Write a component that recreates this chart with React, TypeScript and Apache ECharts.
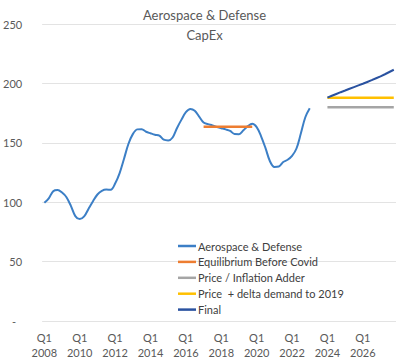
import React, { useEffect, useRef } from "react";
import * as echarts from "echarts";

const years = [2008, 2009, 2010, 2011, 2012, 2013, 2014, 2015, 2016, 2017, 2018, 2019, 2020, 2021, 2022, 2023, 2024, 2025, 2026, 2027];
const quarters = ["Q1", "Q2", "Q3", "Q4"];

const aerospaceDefense = [
  99.5, 103.3, 109.3, 110.3, 108.1, 104.2, 96.9, 88.3,
  85.8, 88, 94.5, 100.8, 106.5, 109.5, 110.6, 110.5,
  115.7, 124.3, 136.4, 149, 157.3, 161.3, 161.5, 159.3,
  158, 156.8, 156, 152.6, 152, 154.5, 162.5, 169.5,
  175.8, 178.5, 177, 172, 167, 165.7, 164.6, 163.3,
  162.3, 161.3, 160, 157.4, 157.3, 160.5, 164, 166,
  163.2, 155.5, 145.5, 134.5, 129.7, 130, 133.8, 135.7,
  139, 145.2, 158, 171.5, 179,
];
const equilibriumStart = 36;
const equilibriumBeforeCovid = [163.5, 163.5, 163.5, 163.5, 163.5, 163.5, 163.5, 163.5, 163.5, 163.5, 163.5, 163.5];
const forecastStart = 64;
const priceInflationAdder = [180, 180, 180, 180, 180, 180, 180, 180, 180, 180, 180, 180, 180, 180, 180, 180];
const priceDeltaDemand = [188, 188, 188, 188, 188, 188, 188, 188, 188, 188, 188, 188, 188, 188, 188, 188];
const finalForecast = [188, 189.6, 191.1, 192.6, 194, 195.5, 196.9, 198.3, 199.7, 201.2, 202.7, 204.3, 205.9, 207.7, 209.6, 211.5];

const yTicks = [0, 50, 100, 150, 200, 250];

export default function App() {
  const ref = useRef<HTMLDivElement>(null);
  useEffect(() => {
    if (!ref.current) return;
    const chart = echarts.init(ref.current, null, { renderer: "svg" });
    const categories: string[] = [];
    years.forEach((y) => quarters.forEach((q) => categories.push(q + " " + y)));
    const n = categories.length;
    const place = (vals: number[], start: number) => {
      const arr: (number | null)[] = new Array(n).fill(null);
      vals.forEach((v, i) => (arr[start + i] = v));
      return arr;
    };
    const font = "Lato, 'Noto Sans', sans-serif";
    chart.setOption({
      animation: false,
      textStyle: { fontFamily: font },
      title: {
        text: "Aerospace & Defense",
        subtext: "CapEx",
        left: 204.5,
        textAlign: "center",
        top: 7,
        padding: 0,
        itemGap: 5,
        textStyle: { fontSize: 13, fontWeight: "normal", color: "#595959", lineHeight: 15, fontFamily: font },
        subtextStyle: { fontSize: 13, color: "#595959", lineHeight: 15, fontFamily: font },
      },
      grid: { left: 42, right: 4, top: 24, bottom: 39 },
      legend: {
        orient: "vertical",
        left: 178,
        top: 240,
        padding: 0,
        icon: "rect",
        itemWidth: 18,
        itemHeight: 2.5,
        itemGap: 3.9,
        textStyle: { fontSize: 11, color: "#404040", lineHeight: 12, fontFamily: font, padding: [0, 0, 0, -3] },
        data: ["Aerospace & Defense", "Equilibrium Before Covid", "Price / Inflation Adder", "Price  + delta demand to 2019", "Final"],
      },
      xAxis: {
        type: "category",
        data: categories,
        boundaryGap: true,
        axisLine: { show: false },
        axisTick: { show: false },
        axisLabel: {
          interval: 7,
          margin: 9,
          color: "#595959",
          fontSize: 11,
          lineHeight: 15,
          fontFamily: font,
          formatter: (v: string) => v.replace(" ", "\n"),
        },
      },
      yAxis: {
        type: "value",
        min: yTicks[0],
        max: yTicks[yTicks.length - 1],
        interval: 50,
        axisLine: { show: false },
        axisTick: { show: false },
        splitLine: { lineStyle: { color: "#e3e3e3", width: 1 } },
        axisLabel: {
          margin: 20,
          color: "#595959",
          fontSize: 11,
          fontFamily: font,
          formatter: (v: number) => (v === 0 ? "{z|-}" : String(v)),
          rich: { z: { fontSize: 11, color: "#595959", fontFamily: font, padding: [0, 6, 0, 0] } },
        },
      },
      series: [
        {
          name: "Aerospace & Defense",
          type: "line",
          data: place(aerospaceDefense, 0),
          symbol: "none",
          smooth: 0.35,
          lineStyle: { color: "#3c7fc6", width: 2 },
          itemStyle: { color: "#3c7fc6" },
        },
        {
          name: "Equilibrium Before Covid",
          type: "line",
          data: place(equilibriumBeforeCovid, equilibriumStart),
          symbol: "none",
          lineStyle: { color: "#ed7d31", width: 2.5 },
          itemStyle: { color: "#ed7d31" },
        },
        {
          name: "Price / Inflation Adder",
          type: "line",
          data: place(priceInflationAdder, forecastStart),
          symbol: "none",
          lineStyle: { color: "#a5a5a5", width: 2.5 },
          itemStyle: { color: "#a5a5a5" },
        },
        {
          name: "Price  + delta demand to 2019",
          type: "line",
          data: place(priceDeltaDemand, forecastStart),
          symbol: "none",
          lineStyle: { color: "#ffc000", width: 2.5 },
          itemStyle: { color: "#ffc000" },
        },
        {
          name: "Final",
          type: "line",
          data: place(finalForecast, forecastStart),
          symbol: "none",
          lineStyle: { color: "#2a52a0", width: 2 },
          itemStyle: { color: "#2a52a0" },
        },
      ],
    });
    return () => chart.dispose();
  }, []);
  return <div ref={ref} style={{ width: 400, height: 360, position: "absolute", left: 0, top: 0 }} />;
}
